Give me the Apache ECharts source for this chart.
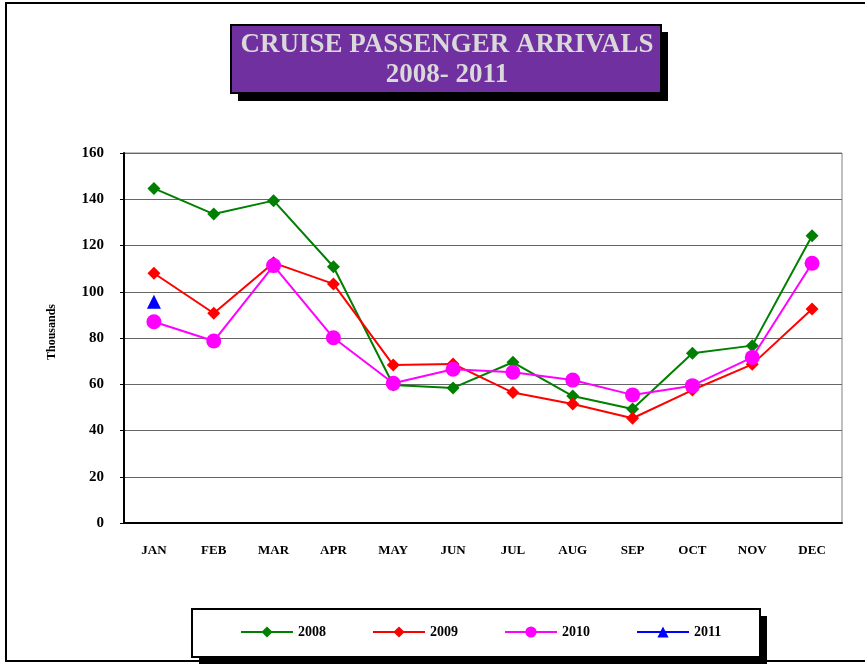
<!DOCTYPE html>
<html>
<head>
<meta charset="utf-8">
<script src="https://cdn.jsdelivr.net/npm/echarts@6/dist/echarts.min.js"></script>
<style>
  html, body { margin: 0; padding: 0; background: #fff; }
  #chart { width: 865px; height: 664px; }
</style>
</head>
<body>
<div id="chart"></div>
<script>
// 数据
var months = ["JAN", "FEB", "MAR", "APR", "MAY", "JUN", "JUL", "AUG", "SEP", "OCT", "NOV", "DEC"];
var yearNames = ["2008", "2009", "2010", "2011"];
var data2008 = [144.7, 133.6, 139.4, 110.8, 59.7, 58.4, 69.5, 54.9, 49.3, 73.4, 76.7, 124.2];
var data2009 = [108, 90.7, 112.5, 103.4, 68.3, 68.8, 56.4, 51.5, 45.3, 57.5, 68.6, 92.5];
var data2010 = [87, 78.7, 111.3, 80.1, 60.4, 66.5, 65.2, 61.8, 55.4, 59.4, 71.6, 112.3];
var data2011 = [95.7, null, null, null, null, null, null, null, null, null, null, null];
var yTicks = [0, 20, 40, 60, 80, 100, 120, 140, 160];

(function () {
    var myChart = echarts.init(document.getElementById("chart"));
    var font = "'Liberation Serif', 'Times New Roman', serif";

    function lineSeries(name, data, color, symbol, size) {
        return {
            name: name,
            type: 'line',
            data: data,
            symbol: symbol,
            symbolSize: size,
            showAllSymbol: true,
            connectNulls: false,
            lineStyle: { color: color, width: 2 },
            itemStyle: { color: color },
            animation: false
        };
    }

    var option = {
        backgroundColor: '#fff',
        textStyle: { fontFamily: font },
        graphic: [
            // 外框
            { type: 'rect', shape: { x: 6, y: 3, width: 880, height: 658 }, style: { fill: 'none', stroke: '#000', lineWidth: 2 }, z: 0 },
            // 标题框
            { type: 'rect', shape: { x: 238, y: 32, width: 430, height: 69 }, style: { fill: '#000' }, z: 10 },
            { type: 'rect', shape: { x: 231, y: 25, width: 430, height: 68 }, style: { fill: '#7030A0', stroke: '#000', lineWidth: 2 }, z: 11 },
            { type: 'text', x: 447, y: 45, z: 12, style: { text: 'CRUISE PASSENGER ARRIVALS', fill: '#D9D9D9', font: 'bold 27px ' + font, textAlign: 'center', textVerticalAlign: 'middle' } },
            { type: 'text', x: 447, y: 75, z: 12, style: { text: '2008- 2011', fill: '#D9D9D9', font: 'bold 27px ' + font, textAlign: 'center', textVerticalAlign: 'middle' } },
            // 图例框
            { type: 'rect', shape: { x: 199, y: 616, width: 568, height: 48 }, style: { fill: '#000' }, z: 10 },
            { type: 'rect', shape: { x: 192, y: 609, width: 568, height: 48 }, style: { fill: '#fff', stroke: '#000', lineWidth: 2 }, z: 11 }
        ],
        legend: {
            data: yearNames,
            left: 240,
            top: 625,
            padding: 0,
            itemWidth: 52,
            itemHeight: 14,
            itemGap: 46,
            z: 20,
            textStyle: { fontFamily: font, fontWeight: 'bold', fontSize: 14, color: '#000' }
        },
        grid: {
            left: 124,
            right: 23,
            top: 153,
            bottom: 141,
            show: true,
            borderColor: '#808080',
            borderWidth: 1
        },
        xAxis: {
            type: 'category',
            data: months,
            boundaryGap: true,
            axisLine: { lineStyle: { color: '#000', width: 2 } },
            axisTick: { interval: 0, length: 4, lineStyle: { color: '#000' } },
            axisLabel: { margin: 21, color: '#000', fontWeight: 'bold', fontSize: 13, fontFamily: font, interval: 0 }
        },
        yAxis: {
            type: 'value',
            min: yTicks[0],
            max: yTicks[yTicks.length - 1],
            interval: 20,
            name: 'Thousands',
            nameLocation: 'middle',
            nameGap: 66,
            nameRotate: 90,
            nameTextStyle: { color: '#000', fontWeight: 'bold', fontSize: 12, fontFamily: font, padding: [0, 0, 0, 12] },
            axisLine: { show: true, lineStyle: { color: '#000', width: 2 } },
            axisTick: { show: true, length: 4, lineStyle: { color: '#000' } },
            axisLabel: { margin: 20, color: '#000', fontWeight: 'bold', fontSize: 15, fontFamily: font },
            splitLine: { lineStyle: { color: '#666', width: 1 } }
        },
        series: [
            lineSeries(yearNames[0], data2008, '#008000', 'diamond', 13),
            lineSeries(yearNames[1], data2009, '#FF0000', 'diamond', 13),
            lineSeries(yearNames[2], data2010, '#FF00FF', 'circle', 15),
            lineSeries(yearNames[3], data2011, '#0000FF', 'triangle', 14)
        ]
    };
    myChart.setOption(option);
    window.addEventListener("resize", function () {
        myChart.resize();
    });
})();
</script>
</body>
</html>
